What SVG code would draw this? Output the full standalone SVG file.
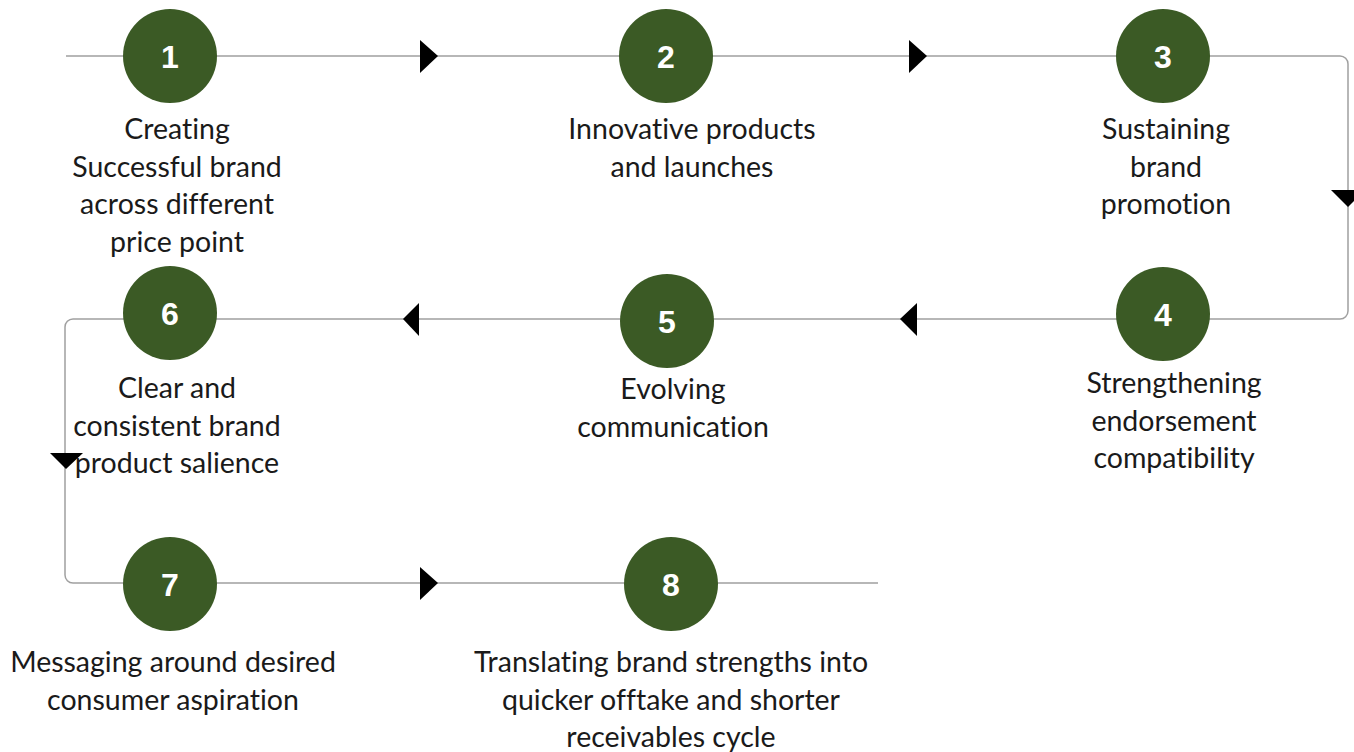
<svg xmlns="http://www.w3.org/2000/svg" width="1354" height="752" viewBox="0 0 1354 752">
<style>
.ln{fill:none;stroke:#a0a0a0;stroke-width:1.5}
.ah{fill:#000}
.c{fill:#3b5a25}
.n{font-family:"Liberation Sans",Arial,sans-serif;font-weight:bold;font-size:32px;fill:#fff;text-anchor:middle}
.t{font-family:Lato,"Open Sans",sans-serif;font-size:28.5px;fill:#1a1a1a;text-anchor:middle;font-variant-ligatures:none}
</style>
<rect width="1354" height="752" fill="#fff"/>
<g id="connectors">
<path class="ln" d="M66,56 H1340 A8,8 0 0 1 1348,64 V311 A8,8 0 0 1 1340,319 H73 A8,8 0 0 0 65,327 V575 A8,8 0 0 0 73,583 H878"/>
<polygon class="ah" points="420,40 438,56 420,73"/>
<polygon class="ah" points="909,40 927,56 909,73"/>
<polygon class="ah" points="1331,190 1365,190 1348,207"/>
<polygon class="ah" points="419,303 403,319 419,336"/>
<polygon class="ah" points="917,303 900,319 917,336"/>
<polygon class="ah" points="50,453 83,453 66,469"/>
<polygon class="ah" points="420,567 438,583 420,600"/>
</g>
<g id="node1"><circle class="c" cx="170" cy="56" r="47"/><text class="n" x="170" y="68">1</text>
<text class="t"><tspan x="177" y="139">Creating</tspan><tspan x="177" y="177">Successful brand</tspan><tspan x="177" y="214">across different</tspan><tspan x="177" y="252">price point</tspan></text></g>
<g id="node2"><circle class="c" cx="666" cy="56" r="47"/><text class="n" x="666" y="68">2</text>
<text class="t"><tspan x="692" y="139">Innovative products</tspan><tspan x="692" y="177">and launches</tspan></text></g>
<g id="node3"><circle class="c" cx="1163" cy="56" r="47"/><text class="n" x="1163" y="68">3</text>
<text class="t"><tspan x="1166" y="139">Sustaining</tspan><tspan x="1166" y="177">brand</tspan><tspan x="1166" y="214">promotion</tspan></text></g>
<g id="node4"><circle class="c" cx="1163" cy="314" r="47"/><text class="n" x="1163" y="326">4</text>
<text class="t"><tspan x="1174" y="393">Strengthening</tspan><tspan x="1174" y="431">endorsement</tspan><tspan x="1174" y="468">compatibility</tspan></text></g>
<g id="node5"><circle class="c" cx="667" cy="321" r="47"/><text class="n" x="667" y="333">5</text>
<text class="t"><tspan x="673" y="399">Evolving</tspan><tspan x="673" y="437">communication</tspan></text></g>
<g id="node6"><circle class="c" cx="170" cy="313" r="47"/><text class="n" x="170" y="325">6</text>
<text class="t"><tspan x="177" y="398">Clear and</tspan><tspan x="177" y="436">consistent brand</tspan><tspan x="177" y="473">product salience</tspan></text></g>
<g id="node7"><circle class="c" cx="170" cy="584" r="47"/><text class="n" x="170" y="596">7</text>
<text class="t"><tspan x="173" y="672">Messaging around desired</tspan><tspan x="173" y="710">consumer aspiration</tspan></text></g>
<g id="node8"><circle class="c" cx="671" cy="584" r="47"/><text class="n" x="671" y="596">8</text>
<text class="t"><tspan x="671" y="672">Translating brand strengths into</tspan><tspan x="671" y="710">quicker offtake and shorter</tspan><tspan x="671" y="747">receivables cycle</tspan></text></g>
</svg>
